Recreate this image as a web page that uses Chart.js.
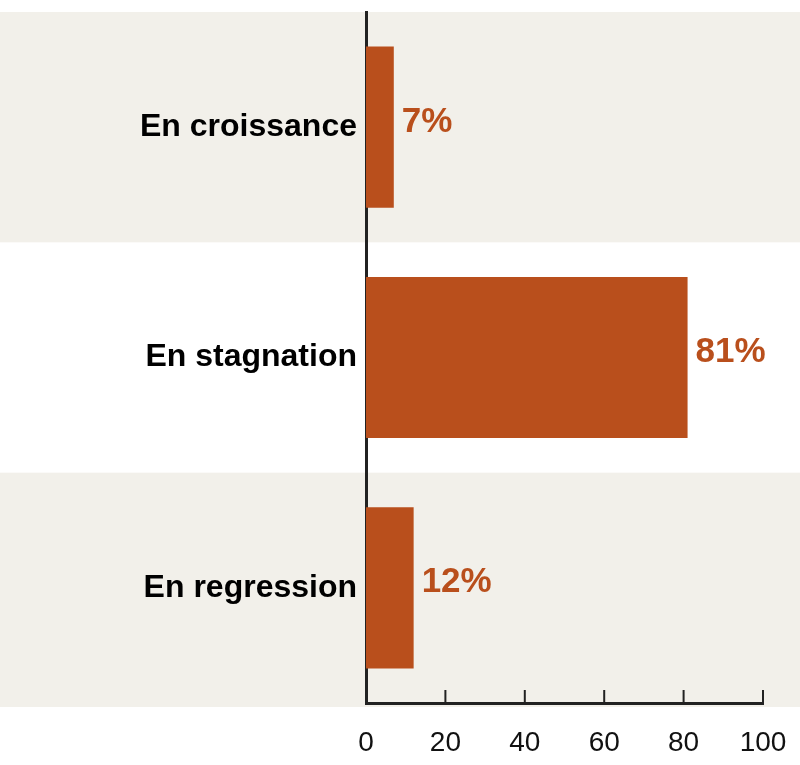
<!DOCTYPE html>
<html>
<head>
<meta charset="utf-8">
<script src="https://cdn.jsdelivr.net/npm/chart.js@4.4.0/dist/chart.umd.min.js"></script>
<style>
html,body{margin:0;padding:0;background:#ffffff;}
#wrap{width:800px;height:765px;position:relative;}
</style>
</head>
<body>
<div id="wrap"><canvas id="c" width="800" height="765"></canvas></div>
<script>
const categories = ["En croissance", "En stagnation", "En regression"];
const values = [7, 81, 12];
const valueLabels = ["7%", "81%", "12%"];
const xTicks = [0, 20, 40, 60, 80, 100];

const BAR = '#b94f1c';
const BAND = '#f2f0ea';

const bandPlugin = {
  id: 'bands',
  beforeDraw(chart) {
    const {ctx, chartArea, scales} = chart;
    const y = scales.y;
    ctx.save();
    ctx.fillStyle = BAND;
    categories.forEach((c, i) => {
      if (i % 2 !== 0) return;
      const top = i === 0 ? chartArea.top : (y.getPixelForValue(i) + y.getPixelForValue(i - 1)) / 2;
      const bottom = i === categories.length - 1 ? chartArea.bottom + 4 : (y.getPixelForValue(i) + y.getPixelForValue(i + 1)) / 2;
      ctx.fillRect(0, top, chart.width, bottom - top);
    });
    ctx.restore();
  }
};

const tickPlugin = {
  id: 'upTicks',
  afterDraw(chart) {
    const {ctx, chartArea, scales} = chart;
    const x = scales.x;
    ctx.save();
    ctx.strokeStyle = '#222';
    ctx.lineWidth = 2;
    xTicks.forEach(v => {
      if (v === 0) return;
      const px = x.getPixelForValue(v);
      ctx.beginPath();
      ctx.moveTo(px, chartArea.bottom);
      ctx.lineTo(px, chartArea.bottom - 13);
      ctx.stroke();
    });
    // value labels
    const meta = chart.getDatasetMeta(0);
    ctx.fillStyle = BAR;
    ctx.font = 'bold 35px "Liberation Sans", Arial, sans-serif';
    ctx.textAlign = 'left';
    ctx.textBaseline = 'middle';
    meta.data.forEach((el, i) => {
      ctx.fillText(valueLabels[i], el.x + 8, el.y - 5);
    });
    ctx.restore();
  }
};

new Chart(document.getElementById('c'), {
  type: 'bar',
  data: {
    labels: categories,
    datasets: [{
      data: values,
      backgroundColor: BAR,
      borderWidth: 0,
      categoryPercentage: 1,
      barPercentage: 0.7
    }]
  },
  options: {
    indexAxis: 'y',
    responsive: false,
    animation: false,
    layout: {padding: {top: 12, right: 37, left: 0, bottom: 0}},
    plugins: {legend: {display: false}, tooltip: {enabled: false}},
    scales: {
      x: {
        min: 0, max: 100,
        afterBuildTicks(scale) { scale.ticks = xTicks.map(v => ({value: v})); },
        afterFit(scale) { scale.height = 62; scale.paddingLeft = 0; scale.paddingRight = 0; },
        grid: {display: false, drawTicks: false},
        border: {display: true, color: '#222', width: 3},
        ticks: {
          color: '#111',
          padding: 23,
          font: {family: '"Liberation Sans", Arial, sans-serif', size: 28}
        }
      },
      y: {
        afterFit(scale) { scale.width = 366; scale.paddingTop = 0; scale.paddingBottom = 0; },
        grid: {display: false, drawTicks: false},
        border: {display: true, color: '#222', width: 3},
        ticks: {
          color: '#000',
          padding: 9,
          font: {family: '"Liberation Sans", Arial, sans-serif', size: 32, weight: 'bold'}
        }
      }
    }
  },
  plugins: [bandPlugin, tickPlugin]
});
</script>
</body>
</html>
